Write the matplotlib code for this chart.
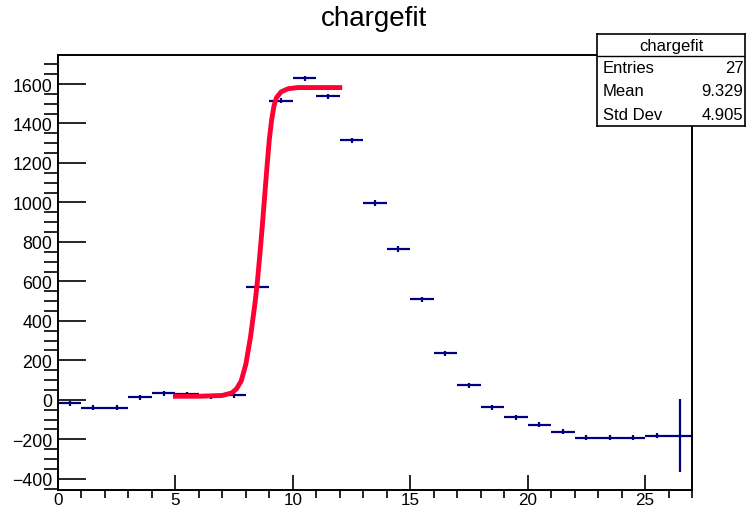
import numpy as np
import matplotlib.pyplot as plt

plt.rcParams['font.family'] = ['Liberation Sans', 'DejaVu Sans']

# histogram "chargefit": 27 bins of width 1 from 0 to 27
bin_centers = np.arange(27) + 0.5
counts = [-17, -39, -39, 12, 32, 27, 18, 22, 572, 1516, 1628, 1537, 1315, 997,
          764, 510, 235, 73, -37, -88, -127, -161, -191, -191, -191, -181, -181]
errors = [13] * 26 + [185]

# fitted curve
fit_x = [5.0, 6.0, 7.0, 7.4, 7.6, 7.8, 8.0, 8.2, 8.4, 8.5, 8.6, 8.7, 8.8, 8.9,
         9.0, 9.1, 9.2, 9.3, 9.5, 9.8, 10.2, 12.0]
fit_y = [18, 18, 22, 35, 55, 95, 180, 320, 500, 610, 740, 880, 1030, 1180,
         1320, 1420, 1490, 1530, 1560, 1576, 1582, 1582]

stats_labels = ['Entries', 'Mean', 'Std Dev']
stats_values = ['27', '9.329', '4.905']

W, H = 746, 510
fig = plt.figure(figsize=(W / 100, H / 100), dpi=100)
ax = fig.add_axes([58 / W, 1 - 491 / H, (692 - 58) / W, (491 - 56) / H])

ax.errorbar(bin_centers, counts, xerr=0.5, yerr=errors, fmt='none',
            ecolor='#000080', elinewidth=1.6, capsize=0, zorder=2)
ax.plot(fit_x, fit_y, color='#ff0033', lw=3.5, zorder=3)

ax.set_xlim(0, 27)
ax.set_ylim(-457, 1747)
ax.set_xticks(np.arange(0, 27, 5))
ax.set_xticks(np.arange(0, 28, 1), minor=True)
ax.set_yticks(np.arange(-400, 1601, 200))
ax.set_yticks(np.arange(-450, 1701, 50), minor=True)
ax.tick_params(direction='in', top=False, right=False, labelsize=12.8,
               width=1.2, pad=4)
ax.tick_params(axis='y', which='major', length=20)
ax.tick_params(axis='y', which='minor', length=10, width=1.2)
ax.tick_params(axis='x', which='major', length=11, pad=1.5, labelsize=12.3)
ax.tick_params(axis='x', which='minor', length=6, width=1.2)
for s in ax.spines.values():
    s.set_linewidth(1.4)

fig.text(374 / W, 1 - 19 / H, 'chargefit', ha='center', va='center',
         fontsize=20)

# stats box
sb = fig.add_axes([597 / W, 1 - 127 / H, (745 - 597) / W, (127 - 35) / H])
sb.set_xlim(0, 1)
sb.set_ylim(0, 1)
sb.set_xticks([])
sb.set_yticks([])
for s in sb.spines.values():
    s.set_linewidth(1.2)
hdr = 1 - 22 / 92
sb.axhline(hdr, color='black', lw=1.0)
sb.text(0.5, (1 + hdr) / 2, 'chargefit', ha='center', va='center', fontsize=12)
for i, (lab, val) in enumerate(zip(stats_labels, stats_values)):
    yy = hdr - (i + 0.5) * hdr / 3
    sb.text(0.04, yy, lab, ha='left', va='center', fontsize=12)
    sb.text(0.99, yy, val, ha='right', va='center', fontsize=12)

fig.savefig('out.png', dpi=100)
